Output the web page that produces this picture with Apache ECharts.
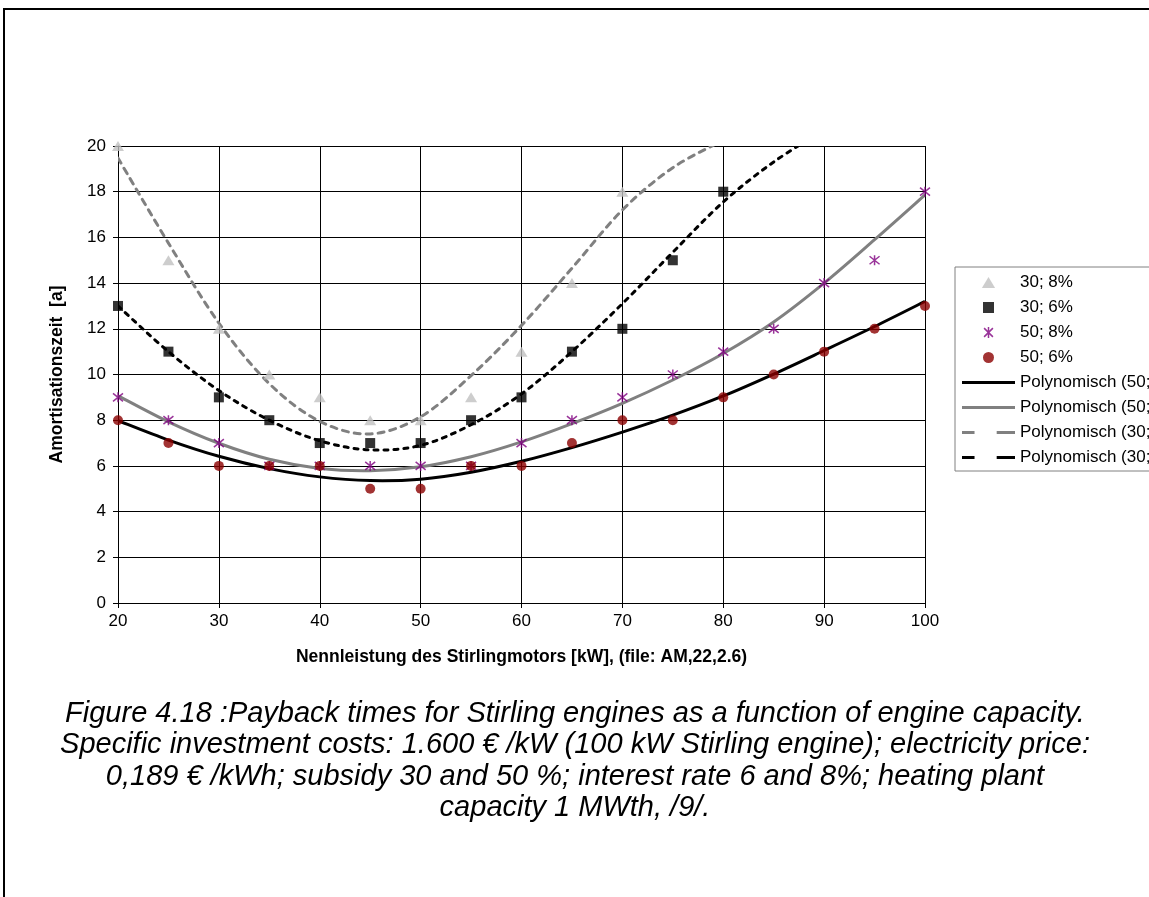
<!DOCTYPE html>
<html>
<head>
<meta charset="utf-8">
<script src="https://cdn.jsdelivr.net/npm/echarts@6/dist/echarts.min.js"></script>
<style>
  html, body { margin: 0; padding: 0; background: #fff; }
  #chart { width: 1149px; height: 897px; }
</style>
</head>
<body>
<div id="chart"></div>
<script>
// Engine capacity steps [kW]
const capacityKW = [20, 25, 30, 35, 40, 45, 50, 55, 60, 65, 70, 75, 80, 85, 90, 95, 100];

// Payback times [a] per scenario (subsidy %; interest rate)
const sub30rate8 = [20, 15, 12, 10, 9, 8, 8, 9, 11, 14, 18, null, null, null, null, null, null];
const sub30rate6 = [13, 11, 9, 8, 7, 7, 7, 8, 9, 11, 12, 15, 18, null, null, null, null];
const sub50rate8 = [9, 8, 7, 6, 6, 6, 6, 6, 7, 8, 9, 10, 11, 12, 14, 15, 18];
const sub50rate6 = [8, 7, 6, 6, 6, 5, 5, 6, 6, 7, 8, 8, 9, 10, 11, 12, 13];

// Polynomial trend lines, sampled at the capacity steps (values above 20 run out of the plot)
const trend50rate6 = [7.98, 7.13, 6.42, 5.88, 5.52, 5.36, 5.42, 5.72, 6.2, 6.8, 7.48, 8.22, 9.06, 10.02, 11.05, 12.1, 13.2];
const trend50rate8 = [9.07, 7.93, 6.99, 6.29, 5.89, 5.79, 5.96, 6.4, 7.05, 7.85, 8.74, 9.76, 10.92, 12.3, 14.0, 15.9, 17.86];
const trend30rate8 = [19.47, 15.75, 12.25, 9.6, 7.95, 7.4, 8.15, 9.95, 12.15, 14.65, 17.2, 19.05, 20.25];
const trend30rate6 = [13.0, 11.0, 9.3, 8.0, 7.1, 6.7, 6.9, 7.8, 9.15, 11.0, 13.1, 15.35, 17.55, 19.3, 20.7];

const seriesNames = ['30; 8%', '30; 6%', '50; 8%', '50; 6%',
  'Polynomisch (50; 6%)', 'Polynomisch (50; 8%)', 'Polynomisch (30; 8%)', 'Polynomisch (30; 6%)'];

const yTicks = { min: 0, max: 20, step: 2 };
const xTicks = { min: 20, max: 100, step: 10 };

const captionLines = [
  'Figure 4.18 :Payback times for Stirling engines as a function of engine capacity.',
  'Specific investment costs: 1.600 € /kW (100 kW Stirling engine); electricity price:',
  '0,189 € /kWh; subsidy 30 and 50 %; interest rate 6 and 8%; heating plant',
  'capacity 1 MWth, /9/.'
];

const FONT = '"Liberation Sans", Arial, sans-serif';
const ASTERISK = 'path://M5,0L5,10M1,1L9,9M1,9L9,1';
// Legend icons as paths so they keep their aspect inside the wide legend slot
const ICON_TRIANGLE = 'path://M6,0L12,10L0,10Z';
const ICON_SQUARE = 'path://M0,0L10,0L10,10L0,10Z';
const ICON_CIRCLE = 'path://M0,5A5,5,0,1,1,10,5A5,5,0,1,1,0,5Z';
const ICON_SOLID = 'path://M0,0L53,0L53,3L0,3Z';
const ICON_DASHED = 'path://M0,0L13,0L13,3L0,3ZM36,0L55,0L55,3L36,3Z';

function pairs(values) {
  return values.map((v, i) => [capacityKW[i], v]).filter(p => p[1] !== null);
}

// Smooth trend curve through the sampled points (uniform Catmull-Rom drawn as cubic Béziers)
function trendSeries(name, values, color, dash) {
  const pts = pairs(values);
  return {
    type: 'custom',
    name: name,
    coordinateSystem: 'cartesian2d',
    data: pts,
    silent: true,
    z: 2,
    itemStyle: { color: color },
    renderItem: function (params, api) {
      if (params.dataIndex !== 0) return null;
      const p = pts.map(d => api.coord(d));
      let d = 'M' + p[0][0] + ',' + p[0][1];
      for (let i = 0; i < p.length - 1; i++) {
        const p0 = p[Math.max(i - 1, 0)];
        const p1 = p[i];
        const p2 = p[i + 1];
        const p3 = p[Math.min(i + 2, p.length - 1)];
        const c1x = p1[0] + (p2[0] - p0[0]) / 6;
        const c1y = p1[1] + (p2[1] - p0[1]) / 6;
        const c2x = p2[0] - (p3[0] - p1[0]) / 6;
        const c2y = p2[1] - (p3[1] - p1[1]) / 6;
        d += 'C' + c1x + ',' + c1y + ',' + c2x + ',' + c2y + ',' + p2[0] + ',' + p2[1];
      }
      const cs = params.coordSys;
      return {
        type: 'path',
        shape: { pathData: d },
        style: {
          fill: null,
          stroke: color,
          lineWidth: 3,
          lineDash: dash,
          lineCap: dash ? 'round' : 'butt',
          lineJoin: 'round'
        },
        clipPath: { type: 'rect', shape: { x: cs.x, y: cs.y, width: cs.width, height: cs.height } }
      };
    }
  };
}

const chart = echarts.init(document.getElementById('chart'), null, { renderer: 'canvas' });

const scatterBase = { type: 'scatter', z: 3 };

const captionGraphics = captionLines.map((line, i) => ({
  type: 'text',
  x: 575,
  y: 713.5 + i * 31.5,
  style: {
    text: line,
    font: 'italic 29px ' + FONT,
    fill: '#000',
    align: 'center',
    verticalAlign: 'middle'
  }
}));

chart.setOption({
  animation: false,
  backgroundColor: '#fff',
  grid: { left: 118, top: 146, width: 807, height: 457, containLabel: false },
  xAxis: {
    type: 'value',
    min: xTicks.min, max: xTicks.max, interval: xTicks.step,
    name: 'Nennleistung des Stirlingmotors [kW], (file: AM,22,2.6)',
    nameLocation: 'middle',
    nameGap: 45,
    nameTextStyle: { fontFamily: FONT, fontSize: 17.5, fontWeight: 'bold', color: '#000' },
    axisLine: { show: true, onZero: false, lineStyle: { color: '#000', width: 1 } },
    axisTick: { show: true, length: 5, lineStyle: { color: '#000' } },
    axisLabel: { fontFamily: FONT, fontSize: 17, color: '#000', margin: 10 },
    splitLine: { show: true, lineStyle: { color: '#000', width: 1 } }
  },
  yAxis: {
    type: 'value',
    min: yTicks.min, max: yTicks.max, interval: yTicks.step,
    name: 'Amortisationszeit  [a]',
    nameLocation: 'middle',
    nameGap: 52,
    nameTextStyle: { fontFamily: FONT, fontSize: 17.5, fontWeight: 'bold', color: '#000' },
    axisLine: { show: true, lineStyle: { color: '#000', width: 1 } },
    axisTick: { show: true, length: 5, lineStyle: { color: '#000' } },
    axisLabel: { fontFamily: FONT, fontSize: 17, color: '#000', margin: 12 },
    splitLine: { show: true, lineStyle: { color: '#000', width: 1 } }
  },
  legend: {
    orient: 'vertical',
    left: 955,
    top: 267,
    padding: [7, 10, 5, 7],
    itemWidth: 53,
    itemHeight: 11,
    itemGap: 8,
    borderColor: '#808080',
    borderWidth: 1,
    backgroundColor: '#fff',
    textStyle: { fontFamily: FONT, fontSize: 17, color: '#000' },
    data: [
      { name: seriesNames[0], icon: ICON_TRIANGLE },
      { name: seriesNames[1], icon: ICON_SQUARE },
      { name: seriesNames[2], icon: ASTERISK, itemStyle: { color: '#800080', borderColor: '#800080', borderWidth: 1.5 } },
      { name: seriesNames[3], icon: ICON_CIRCLE },
      { name: seriesNames[4], icon: ICON_SOLID },
      { name: seriesNames[5], icon: ICON_SOLID },
      { name: seriesNames[6], icon: ICON_DASHED },
      { name: seriesNames[7], icon: ICON_DASHED }
    ]
  },
  graphic: [
    {
      type: 'rect',
      shape: { x: 4, y: 9, width: 1300, height: 1000 },
      style: { fill: 'none', stroke: '#000', lineWidth: 2 },
      z: 10
    },
    ...captionGraphics
  ],
  series: [
    trendSeries(seriesNames[4], trend50rate6, '#000000', null),
    trendSeries(seriesNames[5], trend50rate8, '#808080', null),
    trendSeries(seriesNames[6], trend30rate8, '#808080', [6, 6]),
    trendSeries(seriesNames[7], trend30rate6, '#000000', [4, 6]),
    Object.assign({}, scatterBase, {
      name: seriesNames[0], data: pairs(sub30rate8),
      symbol: 'triangle', symbolSize: [12, 10], itemStyle: { color: '#c0c0c0' }
    }),
    Object.assign({}, scatterBase, {
      name: seriesNames[1], data: pairs(sub30rate6),
      symbol: 'rect', symbolSize: 10, itemStyle: { color: '#000' }
    }),
    Object.assign({}, scatterBase, {
      name: seriesNames[2], data: pairs(sub50rate8),
      symbol: ASTERISK, symbolSize: 10,
      itemStyle: { color: '#800080', borderColor: '#800080', borderWidth: 1.5 }
    }),
    Object.assign({}, scatterBase, {
      name: seriesNames[3], data: pairs(sub50rate6),
      symbol: 'circle', symbolSize: 10, itemStyle: { color: '#8b0000' }
    })
  ]
});
</script>
</body>
</html>
